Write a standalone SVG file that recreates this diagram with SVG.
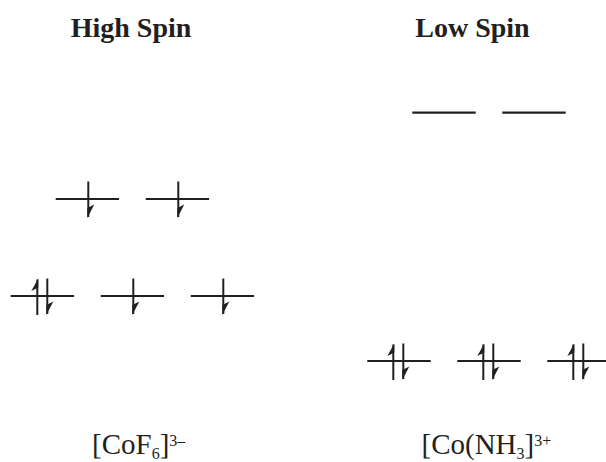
<svg xmlns="http://www.w3.org/2000/svg" xmlns:xlink="http://www.w3.org/1999/xlink" width="606" height="462" viewBox="0 0 606 462">
  <style>
    .lvl { stroke: #231f20; stroke-width: 2.2; fill: none; }
    .stem { stroke: #231f20; stroke-width: 2; fill: none; }
    .barb { fill: #231f20; stroke: none; }
    .title { font-family: "Liberation Serif", "Times New Roman", serif; font-weight: bold; font-size: 28px; fill: #231f20; text-anchor: middle; }
    .label { font-family: "Liberation Serif", "Times New Roman", serif; font-size: 29px; fill: #231f20; }
    .small { font-size: 16px; }
  </style>
  <defs>
    <g id="level"><line class="lvl" x1="0" y1="0" x2="63.4" y2="0"/></g>
    <g id="down">
      <line class="stem" x1="0" y1="-17.5" x2="0" y2="18"/>
      <polygon class="barb" points="-1,19 6,5.5 -1,9"/>
    </g>
    <g id="up">
      <line class="stem" x1="0" y1="-16.5" x2="0" y2="19"/>
      <polygon class="barb" points="1,-17.5 -6,-5 1,-8.5"/>
    </g>
  </defs>

  <g id="title-high"><text class="title" x="131" y="37">High Spin</text></g>
  <g id="title-low"><text class="title" x="472.5" y="37">Low Spin</text></g>

  <!-- High spin eg -->
  <g id="hs-eg-1"><use xlink:href="#level" x="55.7" y="199"/><use xlink:href="#down" x="88.3" y="199"/></g>
  <g id="hs-eg-2"><use xlink:href="#level" x="145.7" y="199"/><use xlink:href="#down" x="178.3" y="199"/></g>

  <!-- High spin t2g -->
  <g id="hs-t2g-1"><use xlink:href="#level" x="10.7" y="296"/><use xlink:href="#up" x="37.3" y="296"/><use xlink:href="#down" x="47.3" y="296"/></g>
  <g id="hs-t2g-2"><use xlink:href="#level" x="100.7" y="296"/><use xlink:href="#down" x="133.3" y="296"/></g>
  <g id="hs-t2g-3"><use xlink:href="#level" x="190.7" y="296"/><use xlink:href="#down" x="223.3" y="296"/></g>

  <!-- Low spin eg -->
  <g id="ls-eg-1"><use xlink:href="#level" x="412.3" y="112.7"/></g>
  <g id="ls-eg-2"><use xlink:href="#level" x="502.3" y="112.7"/></g>

  <!-- Low spin t2g -->
  <g id="ls-t2g-1"><use xlink:href="#level" x="367.3" y="361"/><use xlink:href="#up" x="393.3" y="361"/><use xlink:href="#down" x="403.3" y="361"/></g>
  <g id="ls-t2g-2"><use xlink:href="#level" x="457.3" y="361"/><use xlink:href="#up" x="483.3" y="361"/><use xlink:href="#down" x="493.3" y="361"/></g>
  <g id="ls-t2g-3"><use xlink:href="#level" x="547.3" y="361"/><use xlink:href="#up" x="573.3" y="361"/><use xlink:href="#down" x="583.3" y="361"/></g>

  <g id="label-cof6"><text class="label" x="92" y="454">[CoF<tspan class="small" y="459">6</tspan><tspan y="454">]</tspan><tspan class="small" y="446">3–</tspan></text></g>
  <g id="label-conh3"><text class="label" x="421.5" y="454">[Co(NH<tspan class="small" y="459">3</tspan><tspan y="454">]</tspan><tspan class="small" y="446">3+</tspan></text></g>
</svg>
